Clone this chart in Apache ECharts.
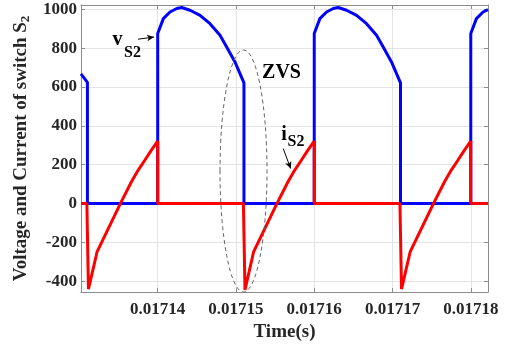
<!DOCTYPE html>
<html>
<head>
<meta charset="utf-8">
<script src="https://cdn.jsdelivr.net/npm/echarts@6/dist/echarts.min.js"></script>
<style>
  html, body { margin: 0; padding: 0; background: #fff; }
  #chart { width: 507px; height: 348px; }
</style>
</head>
<body>
<div id="chart"></div>
<script>
// ticks
const xTicks = [0.01714, 0.01715, 0.01716, 0.01717, 0.01718];
const yTicks = [-400, -200, 0, 200, 400, 600, 800, 1000];

// v_S2 : [time (s), voltage]
const vS2 = [
  [0.0171302, 668], [0.01713102, 624], [0.01713102, 0],
  [0.01714, 0], [0.01714, 875], [0.01714072, 952], [0.01714157, 986], [0.01714243, 1004],
  [0.01714307, 1009], [0.01714413, 995], [0.01714541, 969], [0.01714668, 926],
  [0.01714796, 866], [0.01714881, 806], [0.01714987, 729], [0.01715102, 621], [0.01715102, 0],
  [0.01716, 0], [0.01716, 875], [0.01716072, 952], [0.01716157, 986], [0.01716243, 1004],
  [0.01716307, 1009], [0.01716413, 995], [0.01716541, 969], [0.01716668, 926],
  [0.01716796, 866], [0.01716881, 806], [0.01716987, 729], [0.01717102, 621], [0.01717102, 0],
  [0.01718, 0], [0.01718, 875], [0.01718072, 952], [0.01718157, 986], [0.0171822, 998]
];

// i_S2 : [time (s), current]
const iS2 = [
  [0.0171302, 0], [0.01713095, 0], [0.01713115, -440], [0.01713225, -249], [0.01713523, 0],
  [0.01713663, 111], [0.01713749, 171], [0.01713835, 223], [0.01713917, 274], [0.01714, 322], [0.01714, 0],
  [0.01715095, 0], [0.01715115, -444], [0.01715225, -249], [0.01715523, 0],
  [0.01715663, 111], [0.01715749, 171], [0.01715835, 223], [0.01715917, 274], [0.01716, 322], [0.01716, 0],
  [0.01717095, 0], [0.01717115, -440], [0.01717225, -249], [0.01717523, 0],
  [0.01717663, 111], [0.01717749, 171], [0.01717835, 223], [0.01717917, 274], [0.01718, 322], [0.01718, 0],
  [0.0171822, 0]
];

// annotation arrows (data coords)
const vArrow = [[0.01713748, 846], [0.01713953, 857]];
const iArrow = [[0.01715604, 283], [0.01715699, 180]];

const FONT = '"Liberation Serif", "Times New Roman", serif';
const AXIS_GRAY = '#8c8c8c';
const TEXT_DARK = '#262626';

const chart = echarts.init(document.getElementById('chart'));

function arrowLine(pts) {
  return {
    silent: true,
    animation: false,
    symbol: ['none', 'arrow'],
    symbolSize: [5, 7],
    label: { show: false },
    lineStyle: { color: '#000', width: 1, type: 'solid' },
    data: [[{ coord: pts[0] }, { coord: pts[1] }]]
  };
}

function mirrorTick(ticks) {
  return { show: true, inside: true, length: 4, customValues: ticks, lineStyle: { color: AXIS_GRAY } };
}

chart.setOption({
  animation: false,
  backgroundColor: '#fff',
  grid: { left: 81, right: 19, top: 5, bottom: 56, outerBoundsMode: 'none' },
  xAxis: [{
    type: 'value',
    min: 0.0171302,
    max: 0.0171822,
    axisLine: { show: true, onZero: false, lineStyle: { color: AXIS_GRAY, width: 1 } },
    axisTick: mirrorTick(xTicks),
    axisLabel: {
      customValues: xTicks,
      formatter: (v) => v.toFixed(5),
      fontFamily: FONT, fontWeight: 'bold', fontSize: 17, color: TEXT_DARK, margin: 9
    },
    splitLine: { show: true, lineStyle: { color: '#e4e4e4', width: 1 } },
    name: 'Time(s)',
    nameLocation: 'middle',
    nameGap: 28,
    nameTextStyle: { fontFamily: FONT, fontWeight: 'bold', fontSize: 19, color: TEXT_DARK }
  }, {
    type: 'value',
    position: 'top',
    min: 0.0171302,
    max: 0.0171822,
    axisLine: { show: true, onZero: false, lineStyle: { color: AXIS_GRAY, width: 1 } },
    axisTick: mirrorTick(xTicks),
    axisLabel: { show: false },
    splitLine: { show: false }
  }],
  yAxis: [{
    type: 'value',
    min: -455,
    max: 1022,
    axisLine: { show: true, onZero: false, lineStyle: { color: AXIS_GRAY, width: 1 } },
    axisTick: mirrorTick(yTicks),
    axisLabel: {
      customValues: yTicks,
      formatter: (v) => String(v),
      fontFamily: FONT, fontWeight: 'bold', fontSize: 17, color: TEXT_DARK, margin: 4
    },
    splitLine: { show: true, lineStyle: { color: '#e4e4e4', width: 1 } },
    name: 'Voltage and Current of switch S{sub|2}',
    nameLocation: 'middle',
    nameGap: 46,
    nameTextStyle: {
      fontFamily: FONT, fontWeight: 'bold', fontSize: 19, color: TEXT_DARK,
      rich: { sub: { fontFamily: FONT, fontWeight: 'bold', fontSize: 13, color: TEXT_DARK, padding: [9, 0, 0, 0] } }
    }
  }, {
    type: 'value',
    position: 'right',
    min: -455,
    max: 1022,
    axisLine: { show: true, onZero: false, lineStyle: { color: AXIS_GRAY, width: 1 } },
    axisTick: mirrorTick(yTicks),
    axisLabel: { show: false },
    splitLine: { show: false }
  }],
  series: [{
    name: 'vS2',
    type: 'line',
    data: vS2,
    showSymbol: false,
    symbol: 'none',
    lineStyle: { color: '#0000ff', width: 3 },
    itemStyle: { color: '#0000ff' },
    markLine: arrowLine(vArrow),
    z: 2
  }, {
    name: 'iS2',
    type: 'line',
    data: iS2,
    showSymbol: false,
    symbol: 'none',
    lineStyle: { color: '#ff0000', width: 3 },
    itemStyle: { color: '#ff0000' },
    markLine: arrowLine(iArrow),
    z: 3
  }],
  graphic: [
    {
      type: 'ellipse',
      shape: { cx: 243.5, cy: 171, rx: 23.5, ry: 121 },
      style: { fill: 'none', stroke: '#666', lineWidth: 1, lineDash: [4, 3] },
      z: 10
    },
    { type: 'text', x: 117.5, y: 40, style: { text: 'v', font: 'bold 20px ' + FONT, fill: '#000', align: 'center', verticalAlign: 'middle' }, z: 10 },
    { type: 'text', x: 132.5, y: 53, style: { text: 'S2', font: 'bold 16px ' + FONT, fill: '#000', align: 'center', verticalAlign: 'middle' }, z: 10 },
    { type: 'text', x: 281.5, y: 72.5, style: { text: 'ZVS', font: 'bold 20px ' + FONT, fill: '#000', align: 'center', verticalAlign: 'middle' }, z: 10 },
    { type: 'text', x: 284, y: 135, style: { text: 'i', font: 'bold 20px ' + FONT, fill: '#000', align: 'center', verticalAlign: 'middle' }, z: 10 },
    { type: 'text', x: 296, y: 142, style: { text: 'S2', font: 'bold 16px ' + FONT, fill: '#000', align: 'center', verticalAlign: 'middle' }, z: 10 }
  ]
});
</script>
</body>
</html>
